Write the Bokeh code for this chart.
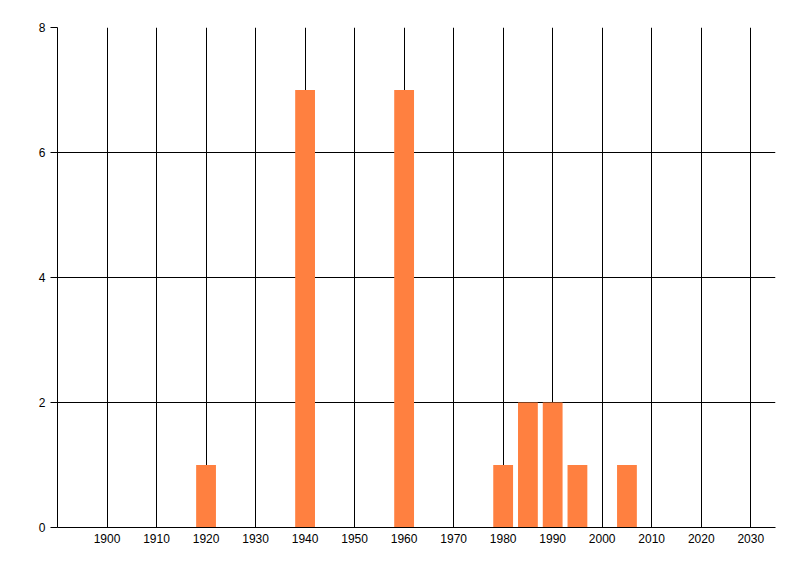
from bokeh.plotting import figure
from bokeh.models import FixedTicker, Range1d
from bokeh.embed import file_html
from bokeh.resources import INLINE

years = [1920, 1940, 1960, 1980, 1985, 1990, 1995, 2005]
counts = [1, 7, 7, 1, 2, 2, 1, 1]

x_ticks = [1900, 1910, 1920, 1930, 1940, 1950, 1960, 1970, 1980, 1990, 2000, 2010, 2020, 2030]
y_ticks = [0, 2, 4, 6, 8]

p = figure(width=792, height=568, output_backend="svg", toolbar_location=None,
           x_range=Range1d(1890, 2035), y_range=Range1d(0, 8),
           min_border_left=57, min_border_right=17,
           min_border_top=27, min_border_bottom=41)

p.vbar(x=years, top=counts, width=4, bottom=0, color="#FF8040", line_color=None)

p.outline_line_color = None

p.xaxis.ticker = FixedTicker(ticks=x_ticks)
p.yaxis.ticker = FixedTicker(ticks=y_ticks)
p.xgrid.ticker = FixedTicker(ticks=x_ticks)
p.ygrid.ticker = FixedTicker(ticks=y_ticks)

for grid in (p.xgrid, p.ygrid):
    grid.grid_line_color = "black"
    grid.grid_line_width = 1
    grid.grid_line_alpha = 1.0

for ax in (p.xaxis, p.yaxis):
    ax.axis_line_color = "black"
    ax.axis_line_width = 1
    ax.major_label_text_font = "Liberation Sans"
    ax.major_label_text_font_size = "12px"
    ax.major_label_text_color = "black"
    ax.minor_tick_line_color = None
    ax.major_tick_in = 0

p.xaxis.major_tick_line_color = None
p.xaxis.major_tick_out = 0
p.xaxis.major_label_standoff = 6
p.yaxis.major_tick_line_color = "black"
p.yaxis.major_tick_out = 7
p.yaxis.major_label_standoff = 5

open("out.html", "w").write(file_html(p, INLINE))
